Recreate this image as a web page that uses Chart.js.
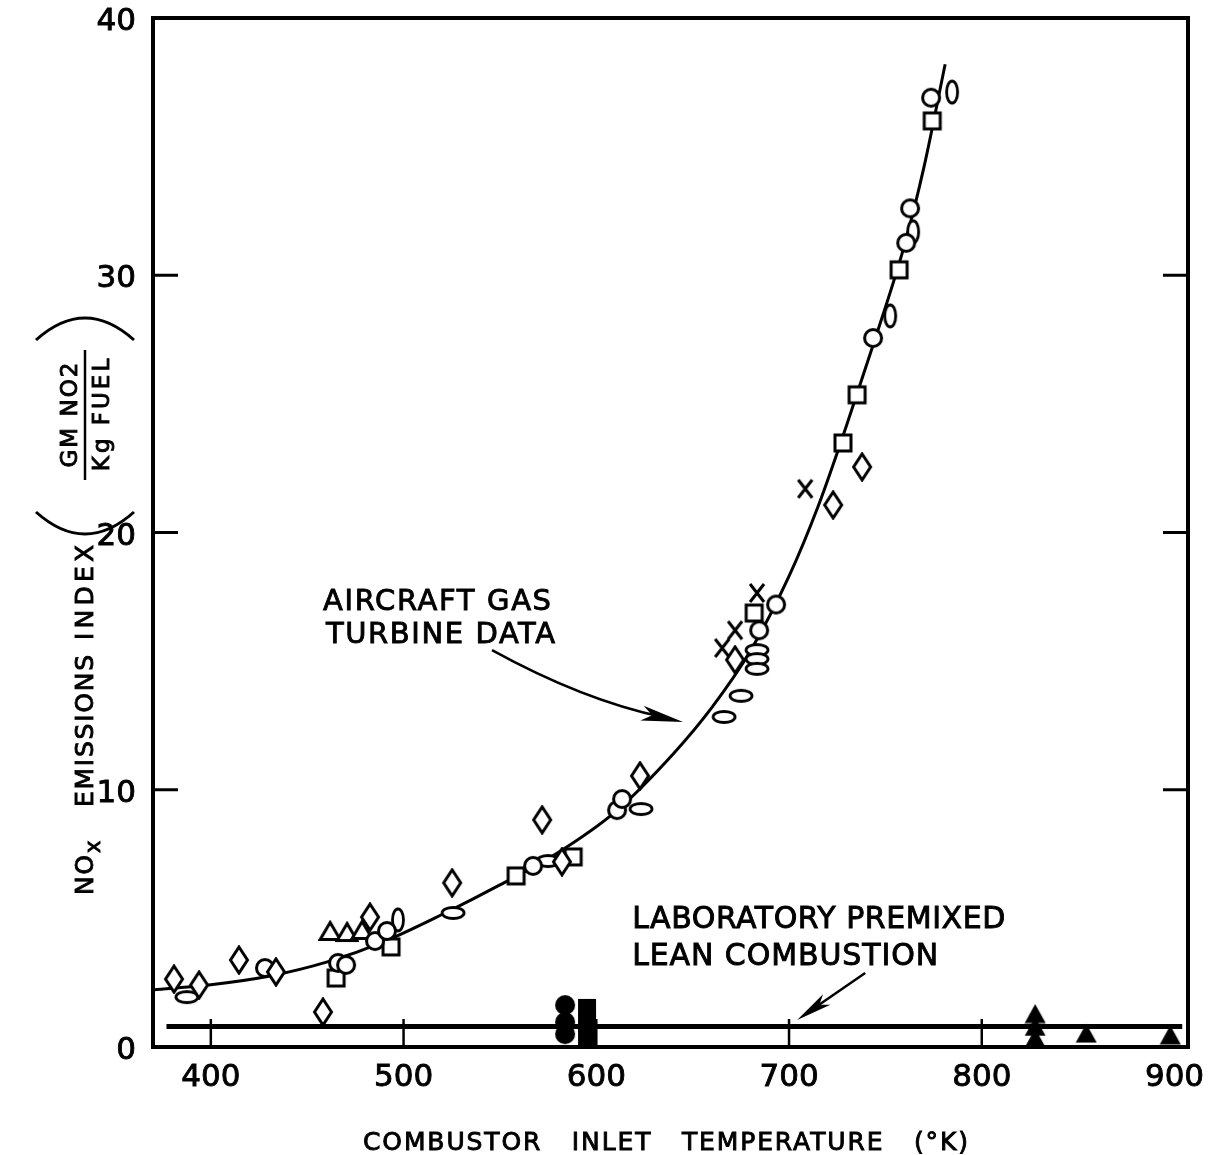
<!DOCTYPE html>
<html><head><meta charset="utf-8">
<script src="https://cdn.jsdelivr.net/npm/chart.js@4"></script>
<style>html,body{margin:0;padding:0;background:#fff}#wrap{width:1215px;height:1155px}</style>
</head><body><div id="wrap"><canvas id="c" width="1215" height="1155"></canvas></div>
<script>
// ---------- data ----------
const xTicks = [400, 500, 600, 700, 800, 900];
const yTicks = [0, 10, 20, 30, 40];

// aircraft gas turbine data (open symbols)
const diamondX = [380.9, 393.9, 414.6, 433.8, 458.2, 482.6, 525.2, 571.9, 582.2, 622.7, 672.0, 722.9, 737.9];
const diamondY = [2.64, 2.41, 3.38, 2.92, 1.36, 5.05, 6.38, 8.83, 7.2, 10.54, 15.05, 21.07, 22.55];
const circleX = [428.1, 466.0, 470.2, 485.2, 491.4, 567.2, 610.8, 613.4, 684.5, 693.3, 743.6, 760.8, 762.8, 773.7];
const circleY = [3.07, 3.27, 3.19, 4.12, 4.51, 7.04, 9.21, 9.64, 16.2, 17.2, 27.56, 31.26, 32.6, 36.9];
const squareX = [465.0, 493.5, 558.4, 588.0, 681.9, 728.0, 735.3, 757.1, 774.3];
const squareY = [2.68, 3.89, 6.65, 7.39, 16.87, 23.48, 25.35, 30.21, 36.0];
const triangleX = [461.9, 470.7, 478.5];
const triangleY = [4.51, 4.47, 4.55];
const crossX = [665.3, 672.0, 683.4, 708.4];
const crossY = [15.51, 16.2, 17.65, 21.7];
const ellipseHX = [387.6, 525.7, 575.0, 623.2, 666.3, 675.1, 683.4, 683.4, 683.4];
const ellipseHY = [1.94, 5.21, 7.23, 9.25, 12.83, 13.65, 15.43, 15.08, 14.7];
const ellipseVX = [497.1, 752.5, 764.4, 784.6];
const ellipseVY = [4.94, 28.42, 31.69, 37.12];

// laboratory premixed lean combustion (filled symbols)
const labCircleX = [583.8, 583.8, 583.8];
const labCircleY = [1.63, 0.97, 0.5];
const labSquareX = [595.2, 595.2, 595.2];
const labSquareY = [1.52, 0.93, 0.35];
const labTriX = [827.7, 827.7, 827.7, 854.2, 897.8];
const labTriY = [1.3, 0.8, 0.35, 0.54, 0.47];

// faired curves
const curveX = [370, 400, 430, 460, 490, 520, 550, 580, 610, 640, 660, 680, 700, 715, 730, 745, 760, 770, 781];
const curveY = [2.22, 2.42, 2.75, 3.3, 4.1, 5.15, 6.3, 7.55, 9.15, 11.4, 13.2, 15.4, 18.3, 21.0, 24.2, 27.6, 31.2, 34.2, 38.2];
const labLineX = [377, 904];
const labLineY = [0.8, 0.8];

// annotations (data units)
const aircraftText = ['AIRCRAFT GAS', 'TURBINE DATA'];
const aircraftTextX = 458.2, aircraftTextY = [16.99, 15.7];
const aircraftArrow = {x0: 545.9, y0: 15.43, cx: 592.9, cy: 13.49, x1: 645.0, y1: 12.63};
const labText = ['LABORATORY PREMIXED', 'LEAN COMBUSTION'];
const labTextX = 618.6, labTextY = [4.63, 3.19];
const labArrow = {x0: 739.5, y0: 2.88, x1: 704.2, y1: 1.05};

// ---------- helpers ----------
const fam = 'DejaVu Sans';
const pts = (xs, ys) => xs.map((x, i) => ({x, y: ys[i]}));
function mk(w, h, draw) {
  const c = document.createElement('canvas'); c.width = w; c.height = h;
  const g = c.getContext('2d'); g.lineWidth = 3; g.strokeStyle = '#000'; g.fillStyle = '#fff';
  draw(g); return c;
}
const P = {
  diamond: mk(22, 30, g => { g.beginPath(); g.moveTo(11, 2); g.lineTo(19.5, 15); g.lineTo(11, 28); g.lineTo(2.5, 15); g.closePath(); g.fill(); g.stroke(); }),
  circle: mk(22, 22, g => { g.beginPath(); g.arc(11, 11, 8.5, 0, Math.PI * 2); g.fill(); g.stroke(); }),
  square: mk(22, 22, g => { g.beginPath(); g.rect(3, 3, 16, 16); g.fill(); g.stroke(); }),
  triangle: mk(24, 22, g => { g.beginPath(); g.moveTo(12, 2.5); g.lineTo(22, 19.5); g.lineTo(2, 19.5); g.closePath(); g.fill(); g.stroke(); }),
  cross: mk(20, 22, g => { g.lineWidth = 3; g.beginPath(); g.moveTo(3, 2); g.lineTo(17, 20); g.moveTo(17, 2); g.lineTo(3, 20); g.stroke(); }),
  ellH: mk(28, 16, g => { g.lineWidth = 2.8; g.beginPath(); g.ellipse(14, 8, 11, 5.5, 0, 0, Math.PI * 2); g.fill(); g.stroke(); }),
  ellV: mk(16, 28, g => { g.lineWidth = 2.8; g.beginPath(); g.ellipse(8, 14, 5.5, 11, 0, 0, Math.PI * 2); g.fill(); g.stroke(); }),
  fCircle: mk(22, 22, g => { g.fillStyle = '#000'; g.beginPath(); g.arc(11, 11, 10, 0, Math.PI * 2); g.fill(); }),
  fSquare: mk(20, 20, g => { g.fillStyle = '#000'; g.fillRect(1, 1, 18, 18); }),
  fTri: mk(22, 20, g => { g.fillStyle = '#000'; g.beginPath(); g.moveTo(11, 0.5); g.lineTo(21.5, 19.5); g.lineTo(0.5, 19.5); g.closePath(); g.fill(); })
};
const sc = (label, xs, ys, style) => ({type: 'scatter', label, data: pts(xs, ys), pointStyle: style, pointRadius: 9, pointHoverRadius: 9, showLine: false, order: 1, clip: false});

const HEAVY = 0.9; // extra stroke to mimic the heavier hand lettering
function fitText(ctx, text, x, y, width, size) {
  ctx.font = size + 'px "' + fam + '"';
  ctx.letterSpacing = '0px';
  const w = ctx.measureText(text).width;
  const n = [...text].length;
  const ls = n > 1 ? (width - w) / (n - 1) : 0;
  ctx.letterSpacing = ls.toFixed(2) + 'px';
  ctx.fillText(text, x, y);
  ctx.lineWidth = HEAVY; ctx.strokeText(text, x, y);
  ctx.letterSpacing = '0px';
}
function rotText(ctx, text, sx, sy, len, size, off) {
  ctx.save(); ctx.translate(sx, sy); ctx.rotate(-Math.PI / 2);
  ctx.textBaseline = 'alphabetic'; ctx.textAlign = 'left';
  fitText(ctx, text, 0, size * 0.729 / 2 + (off || 0), len, size);
  ctx.restore();
}
function rotCentered(ctx, text, sx, cy, size, ls) {
  ctx.save(); ctx.translate(sx, cy); ctx.rotate(-Math.PI / 2);
  ctx.textBaseline = 'alphabetic'; ctx.textAlign = 'left';
  ctx.font = size + 'px "' + fam + '"';
  ctx.letterSpacing = ls + 'px';
  const w = ctx.measureText(text).width - ls;
  ctx.fillText(text, -w / 2, size * 0.729 / 2);
  ctx.lineWidth = HEAVY; ctx.strokeText(text, -w / 2, size * 0.729 / 2);
  ctx.letterSpacing = '0px';
  ctx.restore();
}
function arrowHead(ctx, tx, ty, dx, dy, len, hw) {
  const L = Math.hypot(dx, dy), ux = dx / L, uy = dy / L, nx = -uy, ny = ux;
  const bx = tx - ux * len, by = ty - uy * len;
  ctx.beginPath();
  ctx.moveTo(tx, ty);
  ctx.lineTo(bx + nx * hw, by + ny * hw);
  ctx.lineTo(tx - ux * len * 0.75, ty - uy * len * 0.75);
  ctx.lineTo(bx - nx * hw, by - ny * hw);
  ctx.closePath(); ctx.fill();
}

const deco = {
  id: 'deco',
  beforeDatasetsDraw(chart) {
    const {ctx, chartArea: a, scales: {x, y}} = chart;
    ctx.save();
    ctx.strokeStyle = '#000';
    ctx.lineWidth = 3;
    for (const v of [10, 20, 30]) {
      const py = y.getPixelForValue(v);
      ctx.beginPath(); ctx.moveTo(a.left, py); ctx.lineTo(a.left + 25, py);
      ctx.moveTo(a.right - 25, py); ctx.lineTo(a.right, py); ctx.stroke();
    }
    ctx.lineWidth = 2.5;
    for (const v of [400, 500, 600, 700, 800]) {
      const px = x.getPixelForValue(v);
      ctx.beginPath(); ctx.moveTo(px, a.bottom); ctx.lineTo(px, a.bottom - 28); ctx.stroke();
    }
    ctx.lineWidth = 4;
    ctx.strokeRect(a.left, a.top, a.right - a.left, a.bottom - a.top);
    ctx.restore();
  },
  afterDatasetsDraw(chart) {
    const {ctx, scales: {x, y}} = chart;
    const X = v => x.getPixelForValue(v), Y = v => y.getPixelForValue(v);
    ctx.save();
    ctx.fillStyle = '#000'; ctx.strokeStyle = '#000';
    ctx.textBaseline = 'alphabetic'; ctx.textAlign = 'left';
    // annotation texts
    fitText(ctx, aircraftText[0], X(aircraftTextX), Y(aircraftTextY[0]), 228, 29);
    fitText(ctx, aircraftText[1], X(aircraftTextX) + 3, Y(aircraftTextY[1]), 229, 29);
    fitText(ctx, labText[0], X(labTextX), Y(labTextY[0]), 373, 30);
    fitText(ctx, labText[1], X(labTextX), Y(labTextY[1]), 306, 30);
    // arrow 1 (curved)
    const A = aircraftArrow;
    ctx.lineWidth = 2.5;
    ctx.beginPath(); ctx.moveTo(X(A.x0), Y(A.y0));
    ctx.quadraticCurveTo(X(A.cx), Y(A.cy), X(A.x1) - 20, Y(A.y1) - 5); ctx.stroke();
    arrowHead(ctx, X(A.x1), Y(A.y1), X(A.x1) - X(A.cx), Y(A.y1) - Y(A.cy), 42, 7.5);
    // arrow 2 (straight)
    const B = labArrow;
    ctx.lineWidth = 2.5;
    ctx.beginPath(); ctx.moveTo(X(B.x0), Y(B.y0)); ctx.lineTo(X(B.x1) + 10, Y(B.y1) - 7); ctx.stroke();
    arrowHead(ctx, X(B.x1), Y(B.y1), X(B.x1) - X(B.x0), Y(B.y1) - Y(B.y0), 36, 6.5);
    // x axis title
    fitText(ctx, 'COMBUSTOR   INLET   TEMPERATURE   (\u00B0K)', 363, 1150, 605, 25);
    // y axis title (rotated)
    const tc = 84;
    rotText(ctx, 'NO', tc, 895, 40, 25);
    rotText(ctx, 'x', tc + 2, 853, 12, 21, 6);
    rotText(ctx, 'EMISSIONS', tc, 807, 152, 25);
    rotText(ctx, 'INDEX', tc, 640, 95, 25);
    rotCentered(ctx, 'GM NO2', tc - 15, 415, 23, 2);
    rotCentered(ctx, 'Kg FUEL', tc + 17, 415, 23, 3);
    ctx.lineWidth = 2.5;
    ctx.beginPath(); ctx.moveTo(tc + 1, 480); ctx.lineTo(tc + 1, 350); ctx.stroke();
    ctx.lineWidth = 3;
    ctx.beginPath(); ctx.moveTo(tc - 48, 512); ctx.quadraticCurveTo(tc + 1, 556, tc + 50, 512); ctx.stroke();
    ctx.beginPath(); ctx.moveTo(tc - 48, 340); ctx.quadraticCurveTo(tc + 1, 296, tc + 50, 340); ctx.stroke();
    ctx.restore();
  }
};

new Chart(document.getElementById('c'), {
  type: 'scatter',
  data: {
    datasets: [
      {type: 'line', label: 'curve', data: pts(curveX, curveY), borderColor: '#000', borderWidth: 3, pointRadius: 0, cubicInterpolationMode: 'monotone', fill: false, order: 10},
      {type: 'line', label: 'lab line', data: pts(labLineX, labLineY), borderColor: '#000', borderWidth: 5, pointRadius: 0, fill: false, order: 10},
      sc('diamond', diamondX, diamondY, P.diamond),
      sc('circle', circleX, circleY, P.circle),
      sc('square', squareX, squareY, P.square),
      sc('triangle', triangleX, triangleY, P.triangle),
      sc('cross', crossX, crossY, P.cross),
      sc('ellipse h', ellipseHX, ellipseHY, P.ellH),
      sc('ellipse v', ellipseVX, ellipseVY, P.ellV),
      sc('lab circle', labCircleX, labCircleY, P.fCircle),
      sc('lab square', labSquareX, labSquareY, P.fSquare),
      sc('lab triangle', labTriX, labTriY, P.fTri)
    ]
  },
  options: {
    responsive: false, animation: false, devicePixelRatio: 1,
    layout: {padding: {top: 18, right: 27, left: 0, bottom: 0}},
    plugins: {legend: {display: false}, tooltip: {enabled: false}},
    scales: {
      x: {
        type: 'linear', min: 370, max: 907,
        afterBuildTicks: s => { s.ticks = xTicks.map(v => ({value: v})); },
        afterFit: s => { s.height = 108; s.paddingLeft = 0; s.paddingRight = 0; },
        grid: {display: false, drawTicks: false}, border: {display: false},
        ticks: {font: {family: fam, size: 31}, color: '#000', padding: 12, maxRotation: 0, autoSkip: false, textStrokeColor: '#000', textStrokeWidth: 0.9}
      },
      y: {
        type: 'linear', min: 0, max: 40,
        afterBuildTicks: s => { s.ticks = yTicks.map(v => ({value: v})); },
        afterFit: s => { s.width = 153; s.paddingTop = 0; s.paddingBottom = 0; },
        grid: {display: false, drawTicks: false}, border: {display: false},
        ticks: {font: {family: fam, size: 31}, color: '#000', padding: 17, labelOffset: 4, textStrokeColor: '#000', textStrokeWidth: 0.9}
      }
    }
  },
  plugins: [deco]
});
</script></body></html>
